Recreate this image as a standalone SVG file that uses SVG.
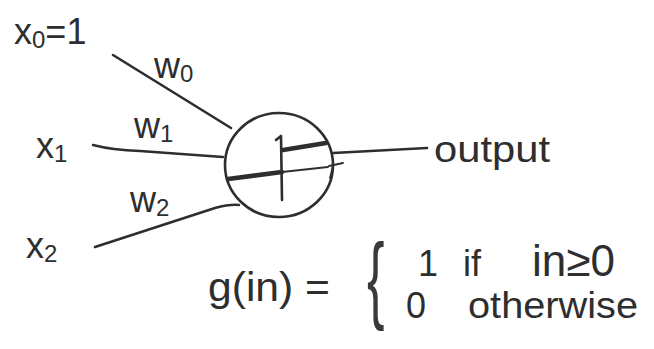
<svg xmlns="http://www.w3.org/2000/svg" width="654" height="349" viewBox="0 0 654 349">
<style>
  .ink{fill:none;stroke:#2e2e2e;stroke-width:2.6;stroke-linecap:round;stroke-linejoin:round}
  .bold{fill:none;stroke:#2e2e2e;stroke-width:4.5;stroke-linecap:round}
  .thin{fill:none;stroke:#2e2e2e;stroke-width:1.8;stroke-linecap:round}
  text{font-family:"Liberation Sans","DejaVu Sans",sans-serif;fill:#2e2e2e}
  .lbl{font-size:36px}
  .sub{font-size:24px}
</style>
<rect width="654" height="349" fill="#ffffff"/>
<g id="x0"><text class="lbl" x="14" y="44">x<tspan class="sub" dy="4">0</tspan><tspan dy="-4">=1</tspan></text></g>
<g id="x1"><text class="lbl" x="36" y="158">x<tspan class="sub" dy="4">1</tspan></text></g>
<g id="x2"><text class="lbl" x="26" y="258">x<tspan class="sub" dy="4">2</tspan></text></g>
<g id="neuron">
  <ellipse class="ink" cx="279" cy="165" rx="54" ry="52"/>
  <path class="ink" d="M276 140 L281 136 L282 200"/>
  <path class="bold" d="M283 150 L326 143"/>
  <path class="bold" d="M228 179 L282 172"/>
  <path class="thin" d="M282 172 L328 167"/>
  <path class="thin" d="M329 166 L343 163 M333 166 L330 178"/>
</g>
<g id="output"><text class="lbl" x="434" y="162" textLength="116" lengthAdjust="spacingAndGlyphs">output</text></g>
<g id="activation">
  <text class="lbl" x="208" y="301" textLength="122" lengthAdjust="spacingAndGlyphs" style="font-size:40px">g(in) =</text>
  <text x="367" y="311" transform="translate(367 311) scale(1.25 2.3) translate(-367 -311)" style="font-size:42px;fill:#3a3a3a">{</text>
  <text class="lbl" x="418" y="276">1</text>
  <text class="lbl" x="463" y="276">if</text>
  <text class="lbl" x="532" y="276" style="font-size:44px">in≥0</text>
  <text class="lbl" x="406" y="318">0</text>
  <text class="lbl" x="468" y="318" textLength="170" lengthAdjust="spacingAndGlyphs">otherwise</text>
</g>
<g id="connectors">
  <path class="ink" d="M113 55 L231 128"/>
  <path class="ink" d="M93 145 Q112 150 140 151 L223 157"/>
  <path class="ink" d="M95 247 L215 208 Q230 204 239 205"/>
  <path class="ink" d="M333 153 L427 148"/>
  <text class="lbl" x="154" y="78">w<tspan class="sub" dy="4">0</tspan></text>
  <text class="lbl" x="134" y="138">w<tspan class="sub" dy="4">1</tspan></text>
  <text class="lbl" x="130" y="212">w<tspan class="sub" dy="4">2</tspan></text>
</g>
</svg>
